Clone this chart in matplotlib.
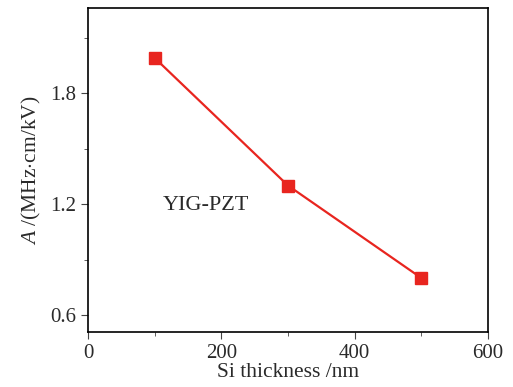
import matplotlib
matplotlib.use('Agg')
import matplotlib.pyplot as plt
from matplotlib.ticker import MultipleLocator

# data
si_thickness = [100, 300, 500]
a_values = [1.99, 1.30, 0.80]

plt.rcParams['font.family'] = 'Liberation Serif'
plt.rcParams['mathtext.fontset'] = 'custom'
plt.rcParams['mathtext.it'] = 'Liberation Serif:italic'
plt.rcParams['mathtext.rm'] = 'Liberation Serif'
plt.rcParams['text.color'] = '#2a2a2a'
plt.rcParams['xtick.labelcolor'] = '#2a2a2a'
plt.rcParams['ytick.labelcolor'] = '#2a2a2a'
plt.rcParams['axes.labelcolor'] = '#2a2a2a'

fig = plt.figure(figsize=(5.13, 3.87), dpi=100)
ax = fig.add_axes([88/513, 1-332/387, 400/513, 324/387])

ax.plot(si_thickness, a_values, color='#e8251f', lw=1.6, marker='s',
        markersize=8.5, markeredgecolor='#e8251f')

ax.set_xlim(0, 600)
ax.set_ylim(0.508, 2.26)
ax.xaxis.set_major_locator(MultipleLocator(200))
ax.xaxis.set_minor_locator(MultipleLocator(100))
ax.yaxis.set_major_locator(MultipleLocator(0.6))
ax.yaxis.set_minor_locator(MultipleLocator(0.3))
ax.tick_params(which='both', direction='out', labelsize=15, color='#444444')
ax.tick_params(which='major', length=5)
ax.tick_params(which='minor', length=3)
ax.yaxis.set_major_formatter(matplotlib.ticker.FormatStrFormatter('%.1f'))
for s in ax.spines.values():
    s.set_linewidth(1.2)

ax.set_xlabel('Si thickness /nm', fontsize=15.5, labelpad=0)
ax.set_ylabel(r'$A$ /(MHz$\cdot$cm/kV)', fontsize=15.5, labelpad=5)
ax.text(112, 1.19, 'YIG-PZT', fontsize=16, va='center', ha='left')

fig.savefig('out.png', dpi=100)
